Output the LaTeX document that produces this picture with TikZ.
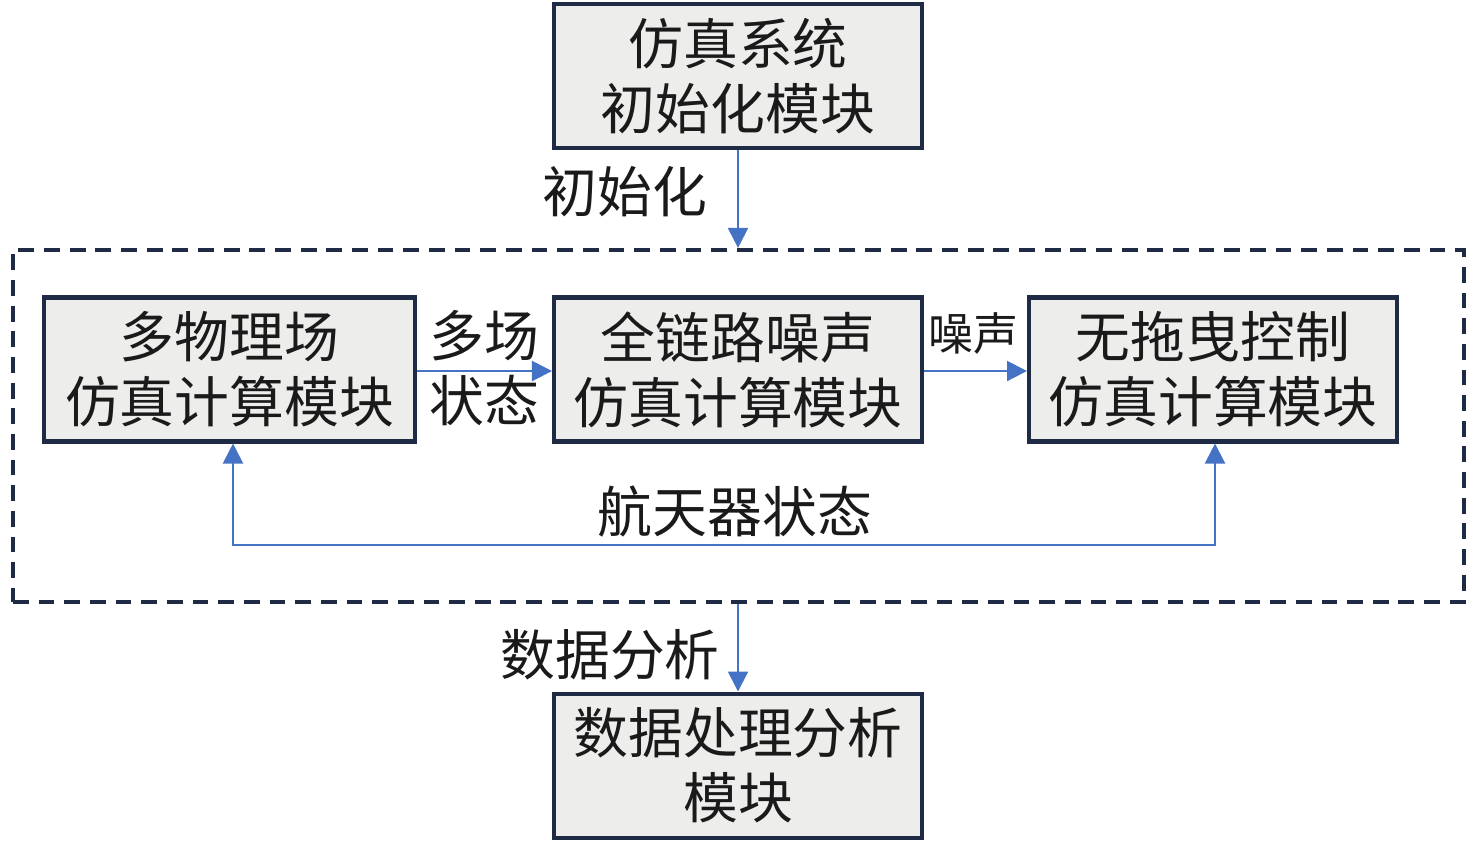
\documentclass[tikz,border=0pt]{standalone}
\usepackage{fontspec}
\setmainfont{Noto Sans CJK SC}
\usetikzlibrary{arrows.meta}
\definecolor{boxline}{HTML}{1F2A44}
\definecolor{boxfill}{HTML}{EDEDEC}
\definecolor{flowblue}{HTML}{4472C4}
\definecolor{txt}{HTML}{1A1A1A}
\tikzset{
	module/.style={draw=boxline, fill=boxfill, line width=1.15pt, minimum width=3.68cm, minimum height=1.44cm, inner sep=0pt, align=center, text=txt, font=\fontsize{15.6pt}{18.5pt}\selectfont},
	frame/.style={draw=boxline, line width=1.2pt, dash pattern=on 4.5pt off 2.8pt, minimum width=14.51cm, minimum height=3.52cm, inner sep=0pt},
	flow/.style={draw=flowblue, line width=0.6pt, -{Triangle[length=0.2cm,width=0.2cm]}},
	lbl/.style={text=txt, align=center, inner sep=0pt, font=\fontsize{15.6pt}{18.5pt}\selectfont},
	smalllbl/.style={text=txt, inner sep=0pt, font=\fontsize{12.8pt}{15pt}\selectfont}
}
\begin{document}
\begin{tikzpicture}
	\useasboundingbox (0,0) rectangle (14.76,-8.42);
	\node[frame] (frame) at (7.385,-4.26) {};
	\node[module] (init) at (7.38,-0.76) {仿真系统\\初始化模块};
	\node[module, minimum width=3.71cm] (multi) at (2.295,-3.695) {多物理场\\仿真计算模块};
	\node[module] (noise) at (7.38,-3.695) {全链路噪声\\仿真计算模块};
	\node[module] (ctrl) at (12.13,-3.695) {无拖曳控制\\仿真计算模块};
	\node[module] (data) at (7.38,-7.655) {数据处理分析\\模块};
	% arrows
	\draw[flow] (init.south) -- (init.south |- frame.north);
	\draw[flow] (data.north |- frame.south) -- (data.north);
	\draw[flow] (multi.east |- 0,-3.71) -- (noise.west |- 0,-3.71);
	\draw[flow] (noise.east |- 0,-3.71) -- (ctrl.west |- 0,-3.71);
	\coordinate (fbL) at (2.33,-5.45);
	\coordinate (fbR) at (12.15,-5.45);
	\draw[flow, {Triangle[length=0.2cm,width=0.2cm]}-{Triangle[length=0.2cm,width=0.2cm]}] (multi.south -| fbL) -- (fbL) -- (fbR) -- (ctrl.south -| fbR);
	% labels
	\node[lbl] (initlbl) at (6.25,-1.92) {初始化};
	\node[lbl] (datalbl) at (6.1,-6.55) {数据分析};
	\node[lbl] (statelbl) at (4.84,-3.68) {多场\\状态};
	\node[smalllbl] (noiselbl) at (9.73,-3.33) {噪声};
	\node[lbl] (scstate) at (7.35,-5.12) {航天器状态};
\end{tikzpicture}
\end{document}
